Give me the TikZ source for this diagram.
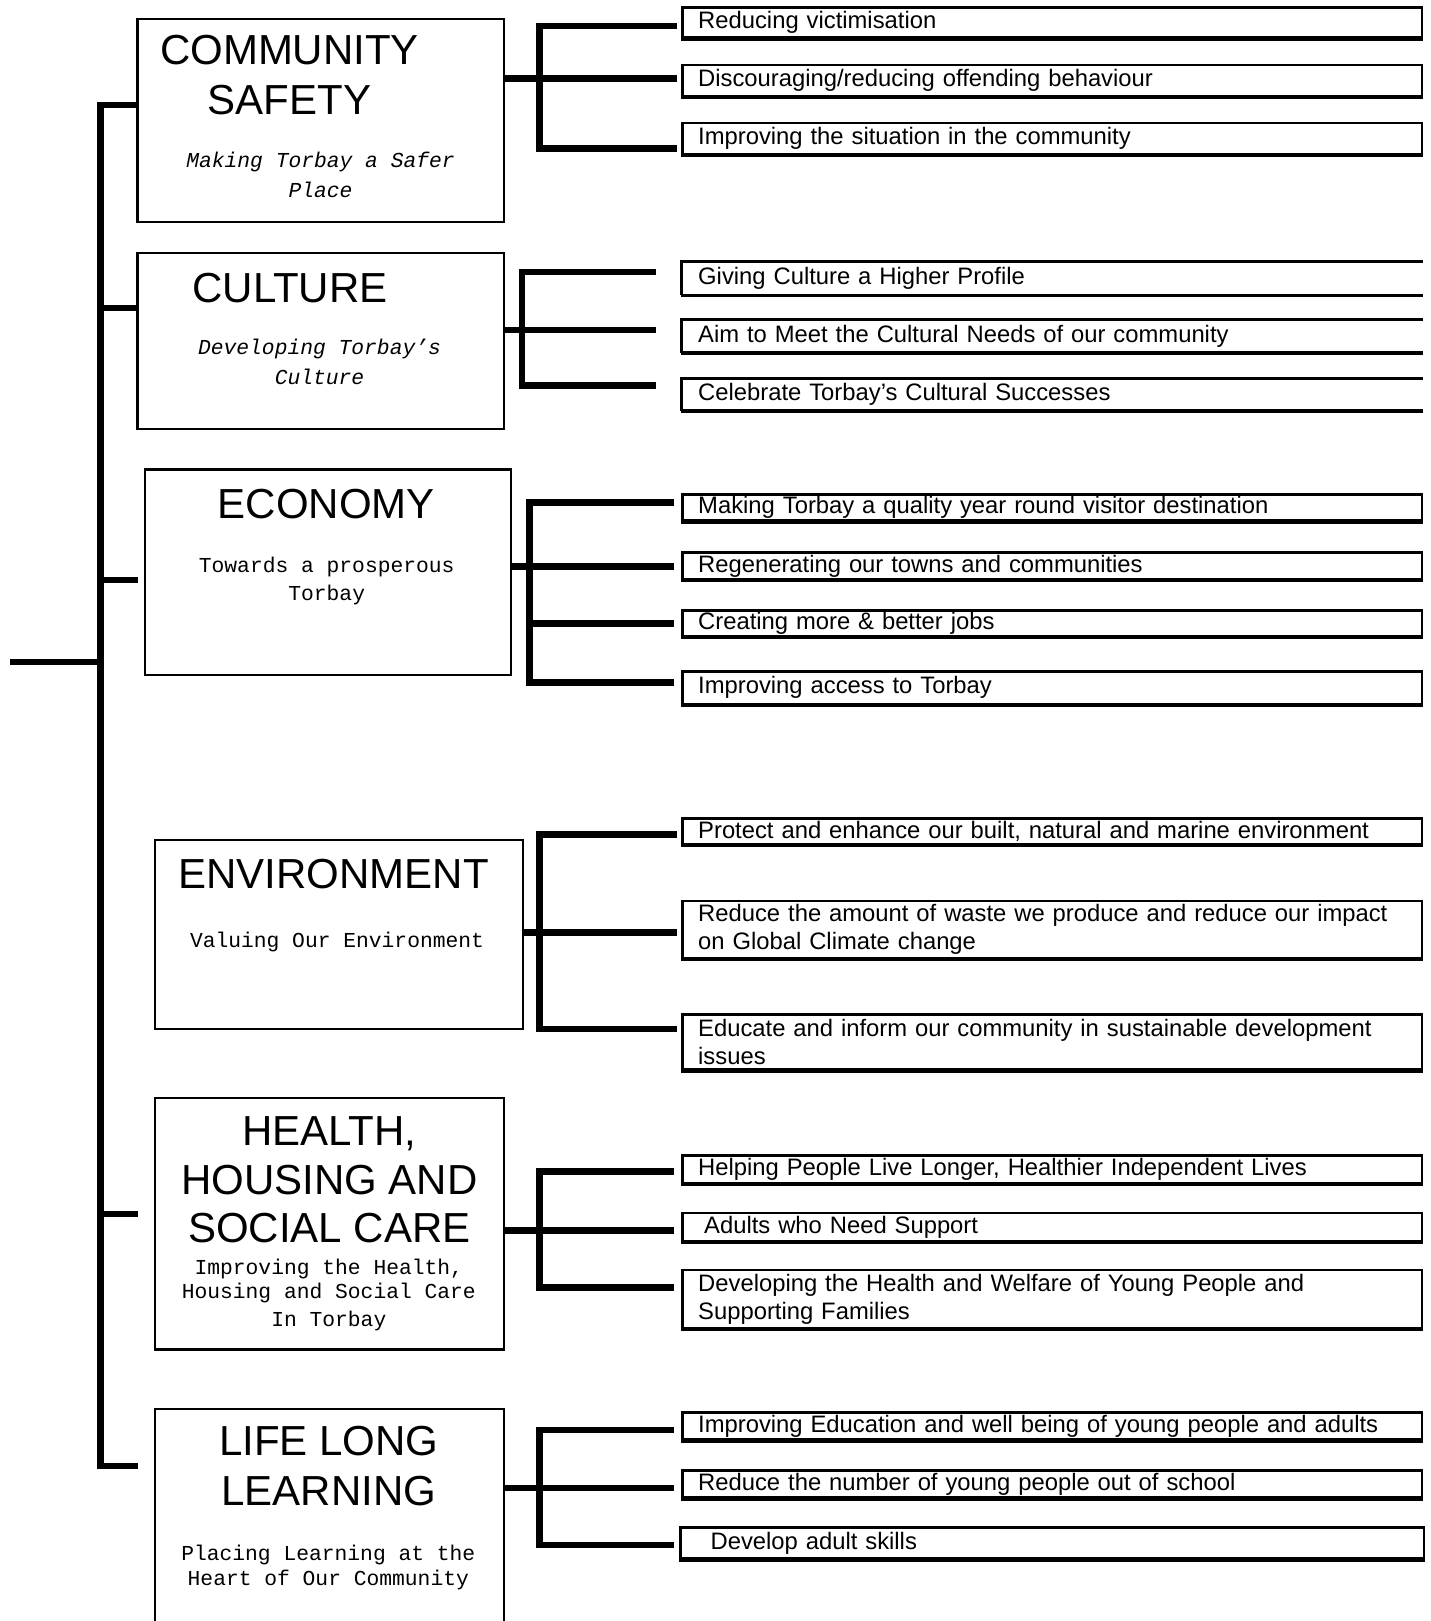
\documentclass[tikz,border=0pt]{standalone}
\usepackage{fontspec}
\setmainfont{Liberation Sans}
\setmonofont{Liberation Mono}
\usetikzlibrary{positioning}

\newcommand\titlesize{\fontsize{42pt}{50pt}\selectfont}
\newcommand\aimsize{\fontsize{23.8pt}{28pt}\selectfont}
\newcommand\subsize[1]{\ttfamily\fontsize{21.3pt}{#1}\selectfont}

\begin{document}
\begin{tikzpicture}
[
x=1pt, y=-1pt,
theme/.style={draw, line width=2.2pt, inner sep=0pt},
theme-title/.style={anchor=north, align=center, font=\titlesize},
theme-sub/.style={anchor=north, align=center},
aim/.style={draw, line width=2.6pt, anchor=north west, inner xsep=15.5pt, inner ysep=0pt, text width=708.3pt, align=left, font=\aimsize},
aim-open/.style={aim, draw=none},
link/.style={line width=6.5pt},
]
\useasboundingbox (0,0) rectangle (1431,1621);

% themes
\node (cs)  [theme, minimum width=366.1pt, minimum height=203.7pt] at (320.6,120.5)  {};
\node (cul) [theme, minimum width=366.1pt, minimum height=175.8pt] at (320.6,341.2)  {};
\node (eco) [theme, minimum width=366.0pt, minimum height=205.8pt] at (327.8,572.3)  {};
\node (env) [theme, minimum width=368.1pt, minimum height=189.2pt] at (339.2,934.2)  {};
\node (hhs) [theme, minimum width=348.5pt, minimum height=251.3pt] at (329.4,1223.8) {};
\node (lll) [theme, minimum width=348.5pt, minimum height=240.0pt] at (329.4,1529.3) {};

\node (cs-t)  [theme-title] at (289.5,31.5)   {COMMUNITY\\SAFETY};
\node (cul-t) [theme-title] at (290.0,269.4)  {CULTURE};
\node (eco-t) [theme-title] at (326.2,485.5)  {ECONOMY};
\node (env-t) [theme-title] at (333.5,855.6)  {ENVIRONMENT};
\node (hhs-t) [theme-title, font=\fontsize{42pt}{48.6pt}\selectfont] at (329.3,1113.1) {HEALTH,\\HOUSING AND\\SOCIAL CARE};
\node (lll-t) [theme-title] at (328.8,1422.3) {LIFE LONG\\LEARNING};

\node (cs-s)  [theme-sub, font=\subsize{30pt}\itshape] at (320.5,148.6)  {Making Torbay a Safer\\Place};
\node (cul-s) [theme-sub, font=\subsize{30pt}\itshape] at (319.5,335.7)  {Developing Torbay’s\\Culture};
\node (eco-s) [theme-sub, font=\subsize{28pt}]         at (326.7,553.9)  {Towards a prosperous\\Torbay};
\node (env-s) [theme-sub, font=\subsize{28pt}]         at (337.0,928.2)  {Valuing Our Environment};
\node (hhs-s) [theme-sub, font=\subsize{24pt}]         at (328.8,1256.0) {Improving the Health,\\Housing and Social Care\\[4pt]In Torbay};
\node (lll-s) [theme-sub, font=\subsize{25pt}]         at (328.3,1541.4) {Placing Learning at the\\Heart of Our Community};

% aims
\node (cs1) [aim, minimum height=30pt] at (681.4,6.5)   {Reducing victimisation};
\node (cs2) [aim, minimum height=31pt] at (681.4,63.8)  {Discouraging/reducing offending behaviour};
\node (cs3) [aim, minimum height=31pt] at (681.4,121.8) {Improving the situation in the community};

\node (cul1) [aim-open, minimum height=31pt] at (681.4,261.6) {Giving Culture a Higher Profile};
\node (cul2) [aim-open, minimum height=31pt] at (681.4,319.5) {Aim to Meet the Cultural Needs of our community};
\node (cul3) [aim-open, minimum height=30pt] at (681.4,378.4) {Celebrate Torbay’s Cultural Successes};
\foreach \n in {cul1,cul2,cul3}
  \draw [line width=2.6pt] (\n.north east) -- (\n.north west) -- (\n.south west);

\node (eco1) [aim, minimum height=26pt] at (681.4,493.2) {Making Torbay a quality year round visitor destination};
\node (eco2) [aim, minimum height=27pt] at (681.4,551.1) {Regenerating our towns and communities};
\node (eco3) [aim, minimum height=26pt] at (681.4,609.0) {Creating more \& better jobs};
\node (eco4) [aim, minimum height=33pt] at (681.4,670.0) {Improving access to Torbay};

\node (env1) [aim, minimum height=26pt] at (681.4,816.9)  {Protect and enhance our built, natural and marine environment};
\node (env2) [aim, minimum height=57pt] at (681.4,899.6)  {Reduce the amount of waste we produce and reduce our impact\\on Global Climate change};
\node (env3) [aim, minimum height=55pt] at (681.4,1013.3) {Educate and inform our community in sustainable development\\issues};

\node (hhs1) [aim, minimum height=28pt] at (681.4,1153.9) {Helping People Live Longer, Healthier Independent Lives};
\node (hhs2) [aim, minimum height=28pt] at (681.4,1211.8) {\hspace*{6pt}Adults who Need Support};
\node (hhs3) [aim, minimum height=58pt] at (681.4,1268.7) {Developing the Health and Welfare of Young People and\\Supporting Families};

\node (lll1) [aim, minimum height=27pt] at (681.4,1411.4) {Improving Education and well being of young people and adults};
\node (lll2) [aim, minimum height=27pt] at (681.4,1469.3) {Reduce the number of young people out of school};
\node (lll3) [aim, minimum height=31pt, text width=712.5pt] at (679.3,1526.2) {\hspace*{14.5pt}Develop adult skills};

% heavier bottom edges
\foreach \n in {cs1,cs2,cs3,cul1,cul2,cul3,eco1,eco2,eco3,eco4,env1,env2,env3,hhs1,hhs2,hhs3,lll1,lll2,lll3}
  \draw [line width=3.4pt] (\n.south west) -- (\n.south east);

% trunk
\coordinate (root)   at (10.3,661.8);
\coordinate (cs-in)  at (137.5,104.8);
\coordinate (cul-in) at (137.5,308.1);
\coordinate (eco-in) at (137.5,580.1);
\coordinate (hhs-in) at (137.5,1213.9);
\coordinate (lll-in) at (137.5,1466.2);
\draw [link] (root) -- (100.5,661.8);
\draw [link] (cs-in) -| (100.5,1466.2) -- (lll-in);
\draw [link] (cul-in) -- ++(-37,0);
\draw [link] (eco-in) -- ++(-37,0);
\draw [link] (hhs-in) -- ++(-37,0);

% brackets
\coordinate (cs-m)  at (677.3,78.6);
\coordinate (cul-m) at (655.6,329.8);
\coordinate (eco-m) at (674.2,566.6);
\coordinate (env-m) at (677.3,932.7);
\coordinate (hhs-m) at (674.2,1230.5);
\coordinate (lll-m) at (674.2,1487.9);
\draw [link] (cs.east |- cs-m)   -- (cs-m);
\draw [link] (cul.east |- cul-m) -- (cul-m);
\draw [link] (eco.east |- eco-m) -- (eco-m);
\draw [link] (env.east |- env-m) -- (env-m);
\draw [link] (hhs.east |- hhs-m) -- (hhs-m);
\draw [link] (lll.east |- lll-m) -- (lll-m);
\draw [link] (677.3,25.9)  -| (539.7,148.6)  -- (677.3,148.6);
\draw [link] (655.6,271.9) -| (522.2,385.7)  -- (655.6,385.7);
\draw [link] (674.2,502.5) -| (529.4,682.4)  -- (674.2,682.4);
\draw [link] (529.4,623.5) -- (674.2,623.5);
\draw [link] (677.3,834.4) -| (539.7,1028.8) -- (677.3,1028.8);
\draw [link] (674.2,1171.5) -| (539.7,1287.3) -- (674.2,1287.3);
\draw [link] (674.2,1430.0) -| (539.7,1544.8) -- (674.2,1544.8);
\end{tikzpicture}
\end{document}
